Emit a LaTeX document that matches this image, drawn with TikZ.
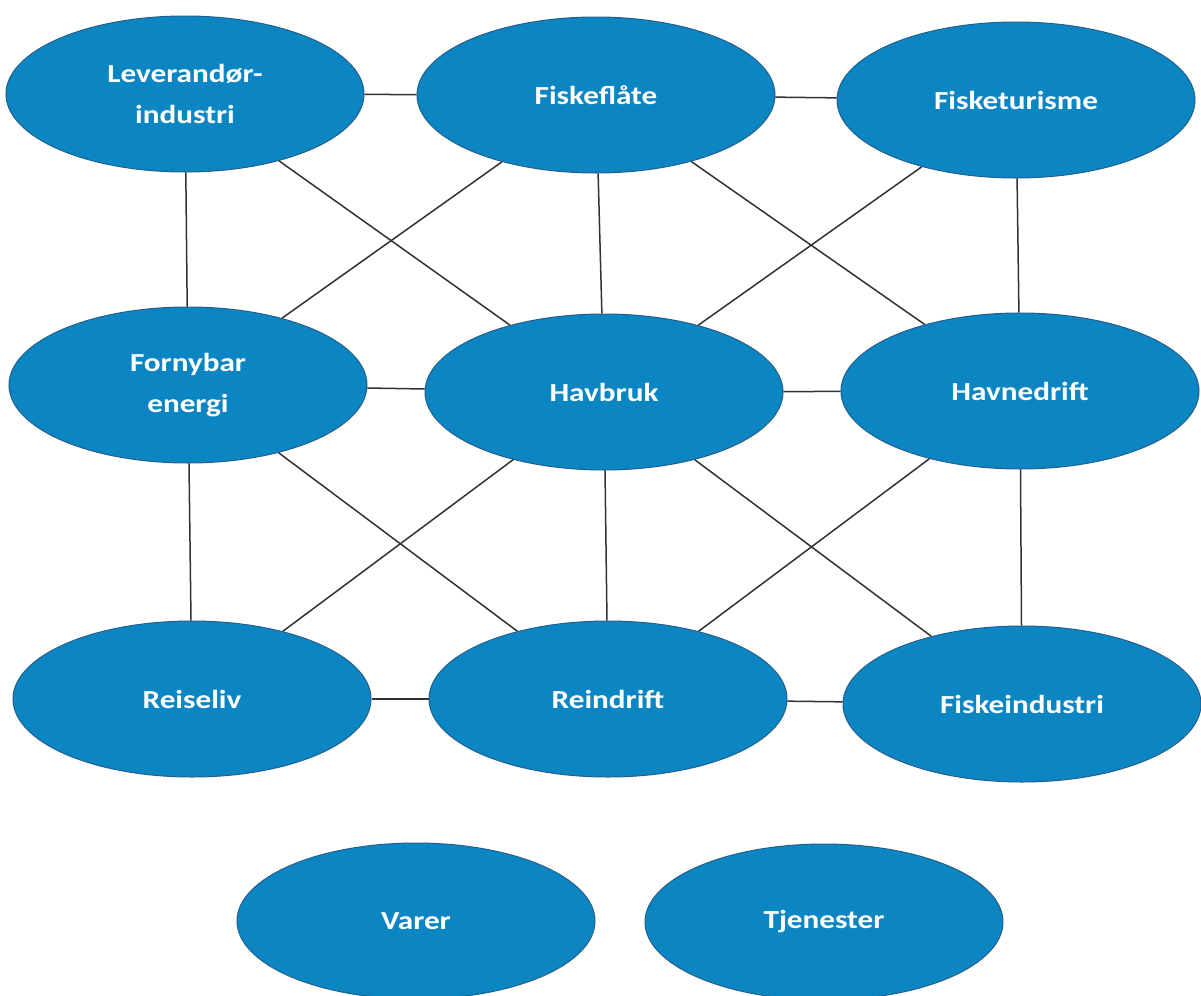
\documentclass[tikz,border=0pt]{standalone}
\usepackage{fontspec}
\newfontfamily\ellfont{Carlito}[FakeStretch=1.2]
\definecolor{sektorblue}{RGB}{12,134,194}
\definecolor{sektorline}{RGB}{35,95,140}
\definecolor{linkgray}{RGB}{50,50,50}
\tikzset{
  sektor/.style={ellipse, draw=sektorline, line width=0.5pt, fill=sektorblue,
    text=white, inner sep=0pt, minimum width=179pt, minimum height=78pt,
    align=center, font=\ellfont\bfseries\fontsize{13}{20.5}\selectfont},
  link/.style={draw=linkgray, line width=0.75pt}
}
\usetikzlibrary{shapes.geometric}
\begin{document}
\begin{tikzpicture}[x=0.5pt, y=-0.5pt]
    \useasboundingbox[fill=white] (0, 0) rectangle (1201, 996);

    % sektorer
    \node[sektor] (lev)      at (185, 94)   {Leverandør-\\industri};
    \node[sektor] (fisk)     at (596, 95)   {Fiskeflåte};
    \node[sektor] (tur)      at (1016, 100) {Fisketurisme};
    \node[sektor] (forn)     at (188, 385)  {Fornybar\\energi};
    \node[sektor] (havbruk)  at (604, 392)  {Havbruk};
    \node[sektor] (havned)   at (1020, 391) {Havnedrift};
    \node[sektor] (reis)     at (192, 699)  {Reiseliv};
    \node[sektor] (reind)    at (608, 699)  {Reindrift};
    \node[sektor] (fiskind)  at (1022, 704) {Fiskeindustri};
    \node[sektor] (varer)    at (416, 921)  {Varer};
    \node[sektor] (tjen)     at (824, 922)  {Tjenester};

    % forbindelser
    \foreach \a/\b in {lev/fisk, fisk/tur, forn/havbruk, havbruk/havned,
                       reis/reind, reind/fiskind,
                       lev/forn, fisk/havbruk, tur/havned,
                       forn/reis, havbruk/reind, havned/fiskind,
                       lev/havbruk, fisk/forn, fisk/havned, tur/havbruk,
                       forn/reind, havbruk/reis, havbruk/fiskind, havned/reind}
      \draw[link] (\a) -- (\b);
  \end{tikzpicture}
\end{document}
